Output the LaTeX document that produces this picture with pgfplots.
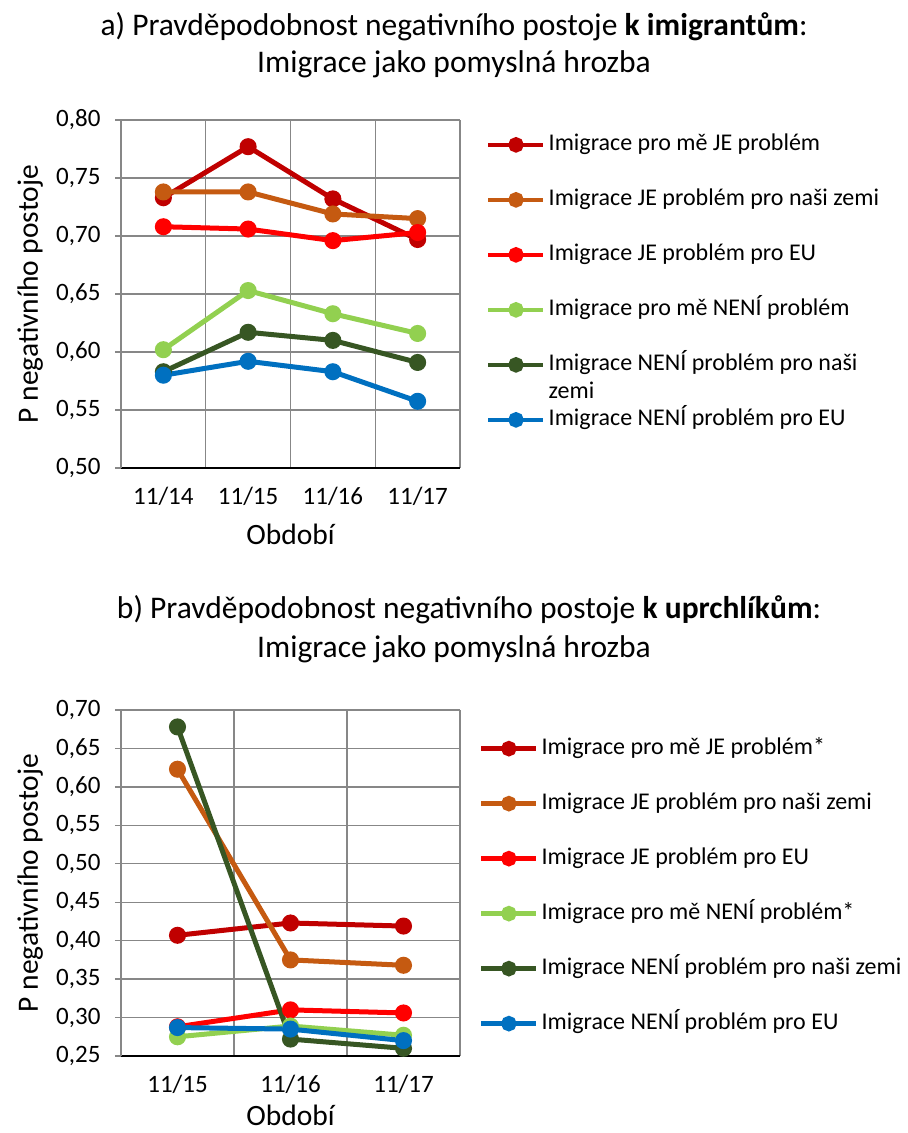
\documentclass[border=0pt]{standalone}
\usepackage{fontspec}
\setmainfont{Carlito}
\usepackage{pgfplots}
\pgfplotsset{compat=1.18}

\definecolor{cDarkRed}{HTML}{C00000}
\definecolor{cOrange}{HTML}{C55A11}
\definecolor{cRed}{HTML}{FF0000}
\definecolor{cLightGreen}{HTML}{92D050}
\definecolor{cDarkGreen}{HTML}{375623}
\definecolor{cBlue}{HTML}{0070C0}
\definecolor{cGrid}{HTML}{878787}

\newcommand{\tickfont}{\fontsize{25}{28}\selectfont}
\newcommand{\legfont}{\fontsize{24}{28}\selectfont}
\newcommand{\labfont}{\fontsize{29.5}{34}\selectfont}
\newcommand{\titfont}{\fontsize{31.5}{38}\selectfont}

\pgfplotsset{
  panel/.style={
    scale only axis, width=339pt,
    axis x line*=bottom, axis y line*=left,
    x axis line style={black, line width=1.6pt},
    y axis line style={cGrid, line width=1.4pt},
    ymajorgrids, xminorgrids,
    grid style={cGrid, line width=1.4pt},
    minor grid style={cGrid, line width=1.4pt},
    tick align=outside,
    major tick length=6pt, minor tick length=0pt,
    xtick style={draw=none},
    ytick style={cGrid, line width=1.4pt},
    tick label style={font=\tickfont},
    yticklabel style={xshift=-11pt, /pgf/number format/.cd, fixed, fixed zerofill, precision=2, use comma, assume math mode=true},
    xticklabel style={yshift=-10pt},
    xlabel={Období}, ylabel={P negativního postoje},
    label style={font=\labfont},
    legend cell align=left,
    legend style={draw=none, fill=none, font=\legfont, anchor=north west,
      row sep=32pt, column sep=3pt,
      nodes={inner sep=0pt, text height=17pt, text depth=6pt}},
    legend image code/.code={\draw[mark repeat=2,mark phase=2,##1,line width=4.5pt,mark size=5.5pt] plot coordinates {(0pt,0pt) (27.5pt,0pt) (55pt,0pt)};},
    every axis plot/.append style={line width=5pt, mark=*, mark size=6pt, mark options={solid}},
  }
}

\begin{document}
\begin{tikzpicture}
\useasboundingbox (0pt,0pt) rectangle (908pt,-1133pt);

% ---- titles
\node[anchor=base, font=\titfont] at (454pt,-35pt) {a) Pravděpodobnost negativního postoje \textbf{k imigrantům}:};
\node[anchor=base, font=\titfont] at (454pt,-72pt) {Imigrace jako pomyslná hrozba};
\node[anchor=base, font=\titfont] at (469pt,-618pt) {b) Pravděpodobnost negativního postoje \textbf{k uprchlíkům}:};
\node[anchor=base, font=\titfont] at (454pt,-657pt) {Imigrace jako pomyslná hrozba};

% ---- panel a
\begin{axis}[panel, at={(121pt,-468pt)}, anchor=south west, height=348pt,
  xmin=0.5, xmax=4.5, xtick={1,2,3,4}, xticklabels={11/14,11/15,11/16,11/17},
  minor xtick={0.5,1.5,2.5,3.5,4.5},
  ymin=0.5, ymax=0.8, ytick={0.5,0.55,...,0.81},
  xlabel style={at={(axis description cs:0.5,-0.19)}, anchor=center},
  ylabel style={at={(axis description cs:-0.268,0.5)}, anchor=center},
  legend style={at={(axis description cs:1.068,0.968)}}]
\addplot[cDarkRed] coordinates {(1,0.733)(2,0.777)(3,0.732)(4,0.697)};
\addlegendentry{Imigrace pro mě JE problém}
\addplot[cOrange] coordinates {(1,0.738)(2,0.738)(3,0.719)(4,0.715)};
\addlegendentry{Imigrace JE problém pro naši zemi}
\addplot[cRed] coordinates {(1,0.708)(2,0.706)(3,0.696)(4,0.703)};
\addlegendentry{Imigrace JE problém pro EU}
\addplot[cLightGreen] coordinates {(1,0.602)(2,0.653)(3,0.633)(4,0.616)};
\addlegendentry{Imigrace pro mě NENÍ problém}
\addplot[cDarkGreen] coordinates {(1,0.583)(2,0.617)(3,0.610)(4,0.591)};
\addlegendentry{\begin{tabular}[t]{@{}l@{}}Imigrace NENÍ problém pro naši\\zemi\end{tabular}}
\addplot[cBlue] coordinates {(1,0.580)(2,0.592)(3,0.583)(4,0.5575)};
\addlegendentry{Imigrace NENÍ problém pro EU}
\end{axis}

% ---- panel b
\begin{axis}[panel, at={(121pt,-1056pt)}, anchor=south west, height=346pt,
  xmin=0.5, xmax=3.5, xtick={1,2,3}, xticklabels={11/15,11/16,11/17},
  minor xtick={0.5,1.5,2.5,3.5},
  ymin=0.25, ymax=0.7, ytick={0.25,0.3,...,0.71},
  xlabel style={at={(axis description cs:0.5,-0.172)}, anchor=center},
  ylabel style={at={(axis description cs:-0.268,0.5)}, anchor=center},
  legend style={at={(axis description cs:1.047,0.928)}}]
\addplot[cDarkRed] coordinates {(1,0.407)(2,0.423)(3,0.419)};
\addlegendentry{Imigrace pro mě JE problém*}
\addplot[cOrange] coordinates {(1,0.623)(2,0.375)(3,0.368)};
\addlegendentry{Imigrace JE problém pro naši zemi}
\addplot[cRed] coordinates {(1,0.288)(2,0.310)(3,0.306)};
\addlegendentry{Imigrace JE problém pro EU}
\addplot[cLightGreen] coordinates {(1,0.275)(2,0.289)(3,0.277)};
\addlegendentry{Imigrace pro mě NENÍ problém*}
\addplot[cDarkGreen] coordinates {(1,0.678)(2,0.272)(3,0.260)};
\addlegendentry{Imigrace NENÍ problém pro naši zemi}
\addplot[cBlue] coordinates {(1,0.287)(2,0.285)(3,0.270)};
\addlegendentry{Imigrace NENÍ problém pro EU}
\end{axis}
\end{tikzpicture}
\end{document}
